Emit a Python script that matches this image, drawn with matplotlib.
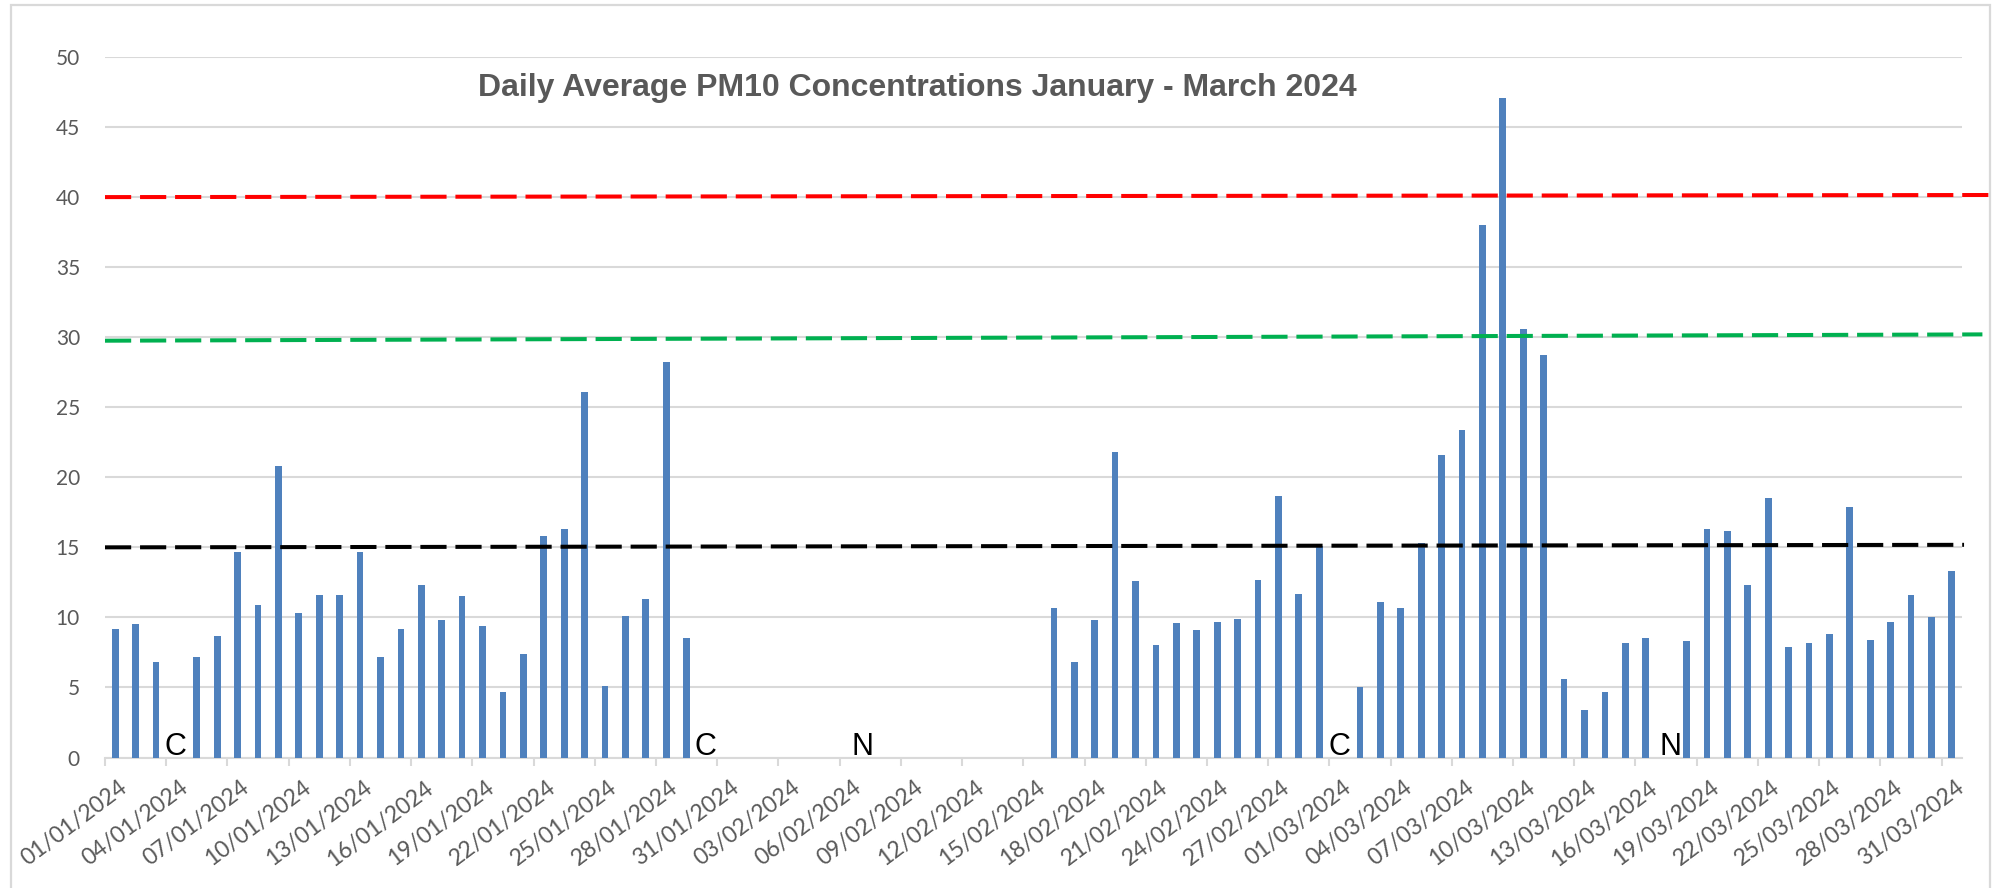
"""Daily average PM10 bar chart, Jan - Mar 2024, with limit lines."""

import numpy as np
import pandas as pd
import matplotlib

matplotlib.use("Agg")
import matplotlib.pyplot as plt
from matplotlib.patches import Rectangle

nan = np.nan

DATES = pd.date_range("2024-01-01", "2024-03-31", freq="D")
DATE_LABELS = [d.strftime("%d/%m/%Y") for d in DATES]

JAN = [9.2, 9.5, 6.8, nan, 7.2, 8.7, 14.7, 10.9, 20.8, 10.3,
       11.6, 11.6, 14.7, 7.2, 9.2, 12.3, 9.8, 11.5, 9.4, 4.7,
       7.4, 15.8, 16.3, 26.1, 5.1, 10.1, 11.3, 28.2, 8.5, nan, nan]
FEB = [nan] * 15 + [10.7, 6.8, 9.8, 21.8, 12.6, 8.0, 9.6, 9.1, 9.7, 9.9,
                    12.7, 18.7, 11.7, 15.1]
MAR = [nan, 5.0, 11.1, 10.7, 15.3, 21.6, 23.4, 38.0, 47.1, 30.6,
       28.7, 5.6, 3.4, 4.7, 8.2, 8.5, nan, 8.3, 16.3, 16.2,
       12.3, 18.5, 7.9, 8.2, 8.8, 17.9, 8.4, 9.7, 11.6, 10.0, 13.3]
PM10 = JAN + FEB + MAR

# limit lines (start level, end level) - drawn slightly sloped as in the source
RED_LINE = [40.0, 40.15]
GREEN_LINE = [29.75, 30.2]
BLACK_LINE = [15.0, 15.18]

# gap markers: C / N letters and the day index they sit over
GAP_TEXT = ["C", "C", "N", "C", "N"]
GAP_POS = [2.95, 28.9, 36.6, 60.0, 76.2]

TITLE = "Daily Average PM10 Concentrations January - March 2024"

GRAY = "#595959"
GRID = "#D9D9D9"
BLUE = "#4F81BD"

W, H = 1997, 888
fig = plt.figure(figsize=(W / 100, H / 100), dpi=100)
ax = fig.add_axes([105 / W, 1 - 757.5 / H, 1857 / W, 700.5 / H])

x = np.arange(len(PM10))
ax.bar(x, PM10, width=0.33, color=BLUE, zorder=3)

ax.set_xlim(-0.5, len(PM10) - 0.5)
ax.set_ylim(0, 50)
ax.set_yticks(np.arange(0, 51, 5))
ax.grid(axis="y", color=GRID, linewidth=1.5, zorder=0)
ax.set_axisbelow(True)
for side in ["top", "right", "left"]:
    ax.spines[side].set_visible(False)
ax.spines["bottom"].set_color(GRID)
ax.spines["bottom"].set_linewidth(1.5)

lab_idx = x[::3]
ax.set_xticks(lab_idx + 0.15)
ax.set_xticklabels([DATE_LABELS[i] for i in lab_idx], rotation=37,
                   ha="right", va="top", rotation_mode="anchor")
ax.set_xticks(lab_idx - 0.5, minor=True)
ax.tick_params(axis="x", which="major", length=0, pad=14,
               labelsize=16.5, labelcolor=GRAY)
ax.tick_params(axis="x", which="minor", length=6, width=1.5, color=GRID)
ax.tick_params(axis="y", length=0, pad=18, labelsize=15, labelcolor=GRAY)
for lab in ax.get_xticklabels() + ax.get_yticklabels():
    lab.set_fontfamily(["Lato", "DejaVu Sans"])

dash = (0, (6.5, 2.2))
ax.plot([-0.5, 92.2], RED_LINE, color="#FF0000", lw=2.9, ls=dash,
        clip_on=False, zorder=4)
ax.plot([-0.5, 91.5], GREEN_LINE, color="#00B050", lw=2.9, ls=dash,
        clip_on=False, zorder=4)
ax.plot([-0.5, 90.6], BLACK_LINE, color="black", lw=2.9, ls=dash,
        clip_on=False, zorder=4)

for txt, pos in zip(GAP_TEXT, GAP_POS):
    ax.text(pos, 0.2, txt, ha="center", va="baseline", fontsize=22,
            color="black", family=["Liberation Sans", "DejaVu Sans"], zorder=5)

fig.text(917 / W, 1 - 88 / H, TITLE, ha="center", va="center",
         fontsize=23, fontweight="bold", color=GRAY,
         family=["Liberation Sans", "DejaVu Sans"])

fig.patches.append(Rectangle((11 / W, -0.01), 1979 / W, 1 - 5 / H + 0.01,
                             transform=fig.transFigure, fill=False,
                             edgecolor=GRID, linewidth=1.6))

fig.savefig("out.png", dpi=100)
